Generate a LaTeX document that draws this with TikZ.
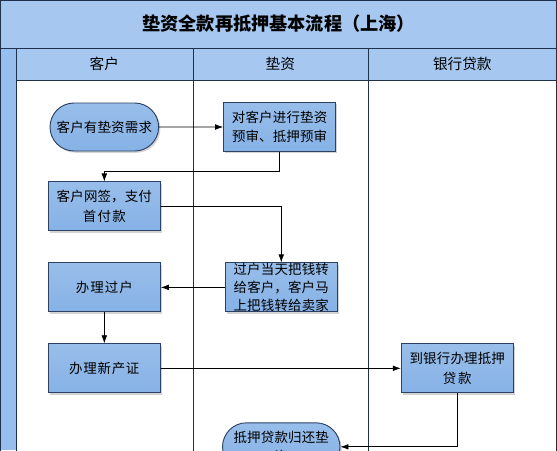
\documentclass[tikz,border=0pt]{standalone}
\usepackage{fontspec}
\setmainfont{Noto Sans CJK SC}
\XeTeXlinebreaklocale "zh"
\XeTeXlinebreakskip = 0pt plus 1pt
\usetikzlibrary{arrows.meta, positioning, shapes.misc, shadows}
\definecolor{bandblue}{RGB}{166,200,240}
\definecolor{stripblue}{RGB}{150,190,238}
\definecolor{boxblue}{RGB}{134,178,230}
\definecolor{boxline}{RGB}{44,66,100}
\definecolor{frameline}{RGB}{30,48,75}

\begin{document}
\begin{tikzpicture}[
                    node distance=0.9cm,
                    block/.style={rectangle, draw=boxline, line width=0.8pt, top color=boxblue!85!white, bottom color=boxblue, text width=88pt, align=center, minimum width=3.36cm, minimum height=1.47cm, inner xsep=1pt, inner ysep=0pt, font=\fontsize{11.5}{16.5}\selectfont, drop shadow={shadow xshift=1.5pt, shadow yshift=-1.5pt, opacity=0.35}},
                    stadium/.style={block, rounded rectangle, minimum width=3.33cm, minimum height=1.44cm},
                    line/.style={draw, line width=0.6pt, -{Latex[length=2.4mm, width=1.7mm]}},
                    lane/.style={draw=frameline, line width=0.8pt}
                ]
                    \useasboundingbox (0,0) rectangle (16.71,-13.5);
                    \clip (0,0) rectangle (16.71,-13.5);

                    % Frame and lanes
                    \fill[bandblue] (0,0) rectangle (16.71,-2.4);
                    \fill[stripblue] (0,-1.44) rectangle (0.48,-13.5);
                    \draw[lane] (0.02,-0.02) rectangle (16.69,-13.6);
                    \draw[lane] (0,-1.44) -- (16.71,-1.44);
                    \draw[lane] (0.48,-2.4) -- (16.71,-2.4);
                    \draw[lane] (0.48,-1.44) -- (0.48,-13.6);
                    \draw[lane] (5.79,-1.44) -- (5.79,-13.6);
                    \draw[lane] (11.04,-1.44) -- (11.04,-13.6);
                    \node[font=\fontsize{15.5}{18}\selectfont\bfseries] (title) at (8.36,-0.72) {垫资全款再抵押基本流程（上海）};
                    \node[font=\fontsize{12.5}{15}\selectfont] (hcust) at (3.13,-1.92) {客户};
                    \node[font=\fontsize{12.5}{15}\selectfont] (hfund) at (8.41,-1.92) {垫资};
                    \node[font=\fontsize{12.5}{15}\selectfont] (hbank) at (13.87,-1.92) {银行贷款};

                    % Place nodes
                    \node [stadium] (need) at (3.13,-3.81) {客户有垫资需求};
                    \node [block, right=1.92cm of need] (precheck) {对客户进行垫资\\预审、抵押预审};
                    \node [block, below=of need] (sign) {客户网签，支付\\首付款};
                    \node [block, below=0.93cm of sign] (guohu) {办理过户};
                    \node [block, right=1.92cm of guohu, font=\fontsize{11.5}{15.5}\selectfont] (transfer) {过户当天把钱转\\给客户，客户马\\上把钱转给卖家};
                    \node [block, below=0.93cm of guohu] (newcert) {办理新产证};
                    \node [block, right=7.2cm of newcert] (bank) {到银行办理抵押\\贷款};
                    \node [stadium, below=3.3cm of transfer] (repay) {抵押贷款归还垫\\资};

                    % Draw edges
                    \path [line] (need) -- (precheck);
                    \path [line] (precheck.south) -- ++(0,-0.57) -| (sign.north);
                    \path [line] (sign.east) -| (transfer.north);
                    \path [line] (transfer) -- (guohu);
                    \path [line] (guohu) -- (newcert);
                    \path [line] (newcert) -- (bank);
                    \path [line] (bank.south) |- (repay.east);
            \end{tikzpicture}
\end{document}
